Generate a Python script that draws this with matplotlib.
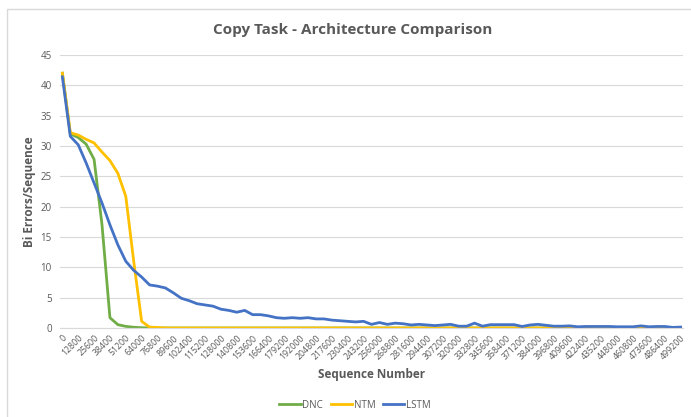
import numpy as np
import matplotlib
matplotlib.use('Agg')
import matplotlib.pyplot as plt
from matplotlib.patches import Rectangle

plt.rcParams['font.family'] = ['Open Sans', 'DejaVu Sans']

# sequence numbers, one point every 6400
seq = list(range(0, 499201, 6400))

dnc = [42.0, 32.0, 31.4, 30.3, 27.8, 17.0, 1.7, 0.55, 0.27, 0.12, 0.05, 0.02] + [0.0] * 67
ntm = [42.0, 32.2, 31.8, 31.1, 30.5, 29.0, 27.6, 25.5, 21.7, 11.0, 1.1, 0.15, 0.08] + [0.0] * 66
lstm = [41.4, 31.6, 30.2, 27.2, 23.9, 20.6, 17.0, 13.7, 11.0, 9.5, 8.4, 7.1, 6.9, 6.6,
        5.8, 4.9, 4.5, 4.0, 3.8, 3.6, 3.1, 2.9, 2.6, 2.9, 2.2, 2.2, 2.0, 1.7, 1.6, 1.7,
        1.6, 1.7, 1.5, 1.5, 1.3, 1.2, 1.1, 1.0, 1.1, 0.6, 0.9, 0.6, 0.8, 0.7, 0.5, 0.6,
        0.5, 0.4, 0.5, 0.6, 0.3, 0.3, 0.8, 0.3, 0.55, 0.55, 0.55, 0.55, 0.25, 0.5, 0.6,
        0.45, 0.3, 0.3, 0.35, 0.2, 0.25, 0.25, 0.25, 0.25, 0.2, 0.2, 0.2, 0.35, 0.2,
        0.25, 0.25, 0.1, 0.15]

gray = '#595959'
fig = plt.figure(figsize=(6.91, 4.17), dpi=100)
ax = fig.add_axes([60 / 691, 1 - 328 / 417, 623 / 691, 273 / 417])

x = np.arange(len(seq))
ax.plot(x, dnc, color='#70AD47', lw=2.0, label='DNC')
ax.plot(x, ntm, color='#FFC000', lw=2.0, label='NTM')
ax.plot(x, lstm, color='#4472C4', lw=2.0, label='LSTM')

ax.set_xlim(-0.3, len(seq) - 0.7)
ax.set_ylim(0, 45)
ax.set_yticks(range(0, 46, 5))
ax.set_xticks(x[::2])
ax.set_xticklabels([str(s) for s in seq[::2]], rotation=45, ha='right',
                   rotation_mode='anchor', fontsize=6.3, color=gray)
ax.tick_params(axis='y', labelsize=7, colors=gray, length=0, pad=6)
ax.tick_params(axis='x', length=0, pad=4)
ax.grid(axis='y', color='#D9D9D9', lw=0.8)
ax.set_axisbelow(True)
for s in ['top', 'right', 'left']:
    ax.spines[s].set_visible(False)
ax.spines['bottom'].set_color('#D9D9D9')

ax.set_xlabel('Sequence Number', fontsize=8.5, fontweight='bold', color=gray, labelpad=5)
ax.set_ylabel('Bi Errors/Sequence', fontsize=8.5, fontweight='bold', color=gray)
ax.yaxis.set_label_coords(-0.0385, 0.5)
fig.text(353 / 691, 1 - 30 / 417, 'Copy Task - Architecture Comparison',
         ha='center', va='center', fontsize=11, fontweight='bold', color=gray)

ax.legend(loc='center', bbox_to_anchor=(355 / 691, 1 - 405 / 417),
          bbox_transform=fig.transFigure, ncol=3, frameon=False, fontsize=7,
          handlelength=2.2, handletextpad=0.15, columnspacing=0.8, labelcolor=gray)

# chart border like the excel chart area
fig.patches.append(Rectangle((7 / 691, -0.1), 1.0, 1 - 9 / 417 + 0.1,
                             transform=fig.transFigure, fill=False,
                             edgecolor='#D9D9D9', lw=1.0))

fig.savefig('out.png', dpi=100)
